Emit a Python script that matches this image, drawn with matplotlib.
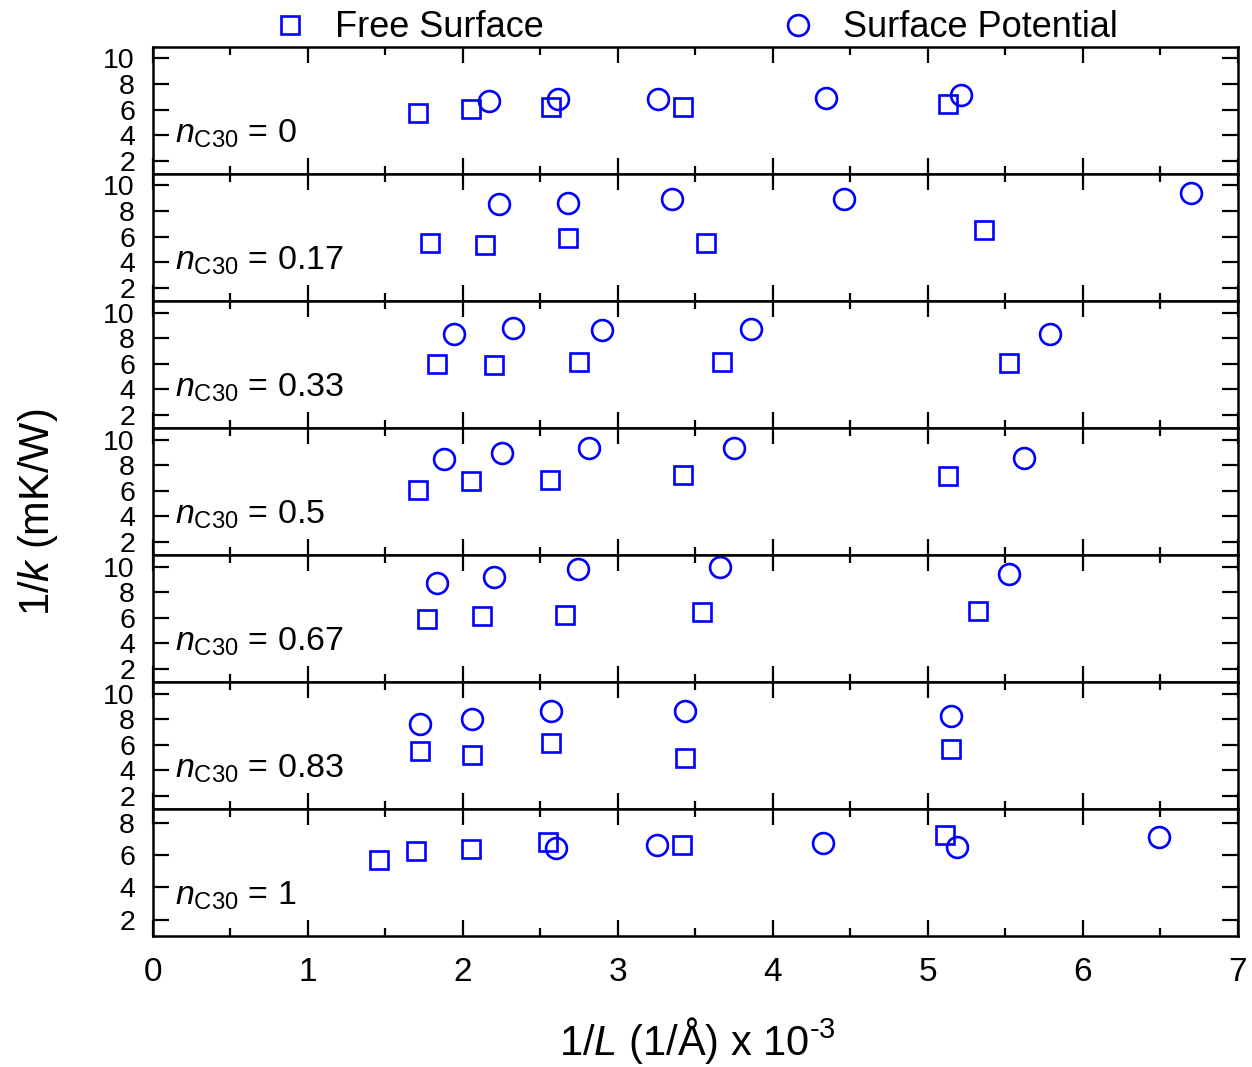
import numpy as np
import matplotlib
matplotlib.use("Agg")
import matplotlib.pyplot as plt
from matplotlib.ticker import MultipleLocator

plt.rcParams['font.family'] = ['Liberation Sans', 'DejaVu Sans']
plt.rcParams['mathtext.fontset'] = 'custom'
plt.rcParams['mathtext.rm'] = 'Liberation Sans'
plt.rcParams['mathtext.it'] = 'Liberation Sans:italic'

# fraction C30 dans chaque panneau
n_c30 = ['0', '0.17', '0.33', '0.5', '0.67', '0.83', '1']

# surface libre (carrés)
x_libre = [
    [1.71, 2.05, 2.57, 3.42, 5.13],
    [1.79, 2.14, 2.68, 3.57, 5.36],
    [1.83, 2.20, 2.75, 3.67, 5.52],
    [1.71, 2.05, 2.56, 3.42, 5.13],
    [1.77, 2.12, 2.66, 3.54, 5.32],
    [1.72, 2.06, 2.57, 3.43, 5.15],
    [1.46, 1.70, 2.05, 2.55, 3.41, 5.11],
]
y_libre = [
    [5.72, 6.04, 6.20, 6.20, 6.44],
    [5.53, 5.37, 5.92, 5.53, 6.55],
    [6.00, 5.92, 6.16, 6.16, 6.08],
    [6.04, 6.74, 6.82, 7.21, 7.13],
    [5.88, 6.12, 6.19, 6.43, 6.51],
    [5.48, 5.17, 6.12, 5.01, 5.64],
    [5.71, 6.27, 6.39, 6.82, 6.64, 7.26],
]

# potentiel de surface (cercles)
x_pot = [
    [2.17, 2.61, 3.26, 4.34, 5.21],
    [2.23, 2.68, 3.35, 4.46, 6.70],
    [1.94, 2.32, 2.90, 3.86, 5.79],
    [1.88, 2.25, 2.81, 3.75, 5.62],
    [1.83, 2.20, 2.74, 3.66, 5.52],
    [1.72, 2.06, 2.57, 3.43, 5.15],
    [2.60, 3.25, 4.32, 5.19, 6.49],
]
y_pot = [
    [6.67, 6.83, 6.83, 6.91, 7.15],
    [8.52, 8.60, 8.91, 8.91, 9.39],
    [8.36, 8.83, 8.60, 8.68, 8.36],
    [8.46, 8.93, 9.32, 9.32, 8.54],
    [8.69, 9.16, 9.79, 9.94, 9.40],
    [7.63, 8.02, 8.66, 8.66, 8.26],
    [6.45, 6.64, 6.76, 6.52, 7.13],
]

bleu = '#0000ff'

fig, axes = plt.subplots(7, 1, figsize=(12.52, 10.67), dpi=100, sharex=True)
fig.subplots_adjust(left=0.1222, right=0.9888, top=0.956, bottom=0.1228, hspace=0)

for i, ax in enumerate(axes):
    h1, = ax.plot(x_libre[i], y_libre[i], 's', ms=13.5, mfc='none', mec=bleu, mew=1.9,
                  linestyle='none', label='Free Surface')
    h2, = ax.plot(x_pot[i], y_pot[i], 'o', ms=15, mfc='none', mec=bleu, mew=1.9,
                  linestyle='none', label='Surface Potential')
    ax.set_xlim(0, 7)
    if i < 6:
        ax.set_ylim(1, 10.9)
        ax.set_yticks([2, 4, 6, 8, 10])
    else:
        ax.set_ylim(1, 8.85)
        ax.set_yticks([2, 4, 6, 8])
    ax.xaxis.set_major_locator(MultipleLocator(1))
    ax.xaxis.set_minor_locator(MultipleLocator(0.5))
    ax.tick_params(which='both', direction='in', top=True, right=True, width=1.6)
    ax.tick_params(which='major', length=11.5)
    ax.tick_params(which='minor', length=6)
    ax.tick_params(axis='y', labelsize=20.5, pad=13)
    ax.tick_params(axis='x', labelsize=24, pad=15)
    for s in ax.spines.values():
        s.set_linewidth(1.8)
    ax.text(0.02, 0.32, r'$n_{\mathrm{C30}}$ = ' + n_c30[i], transform=ax.transAxes,
            fontsize=24.5, va='center', ha='left')
    if i == 0:
        poignees = [h1, h2]

fig.legend(poignees, ['Free Surface', 'Surface Potential'], loc='center',
           bbox_to_anchor=(0.555, 0.974), ncol=2, frameon=False, fontsize=26,
           handlelength=1.0, handletextpad=0.75, columnspacing=6.55)

fig.text(0.03, 0.52, r'1/$k$ (mK/W)', rotation=90, fontsize=30, ha='center', va='center')
fig.text(0.557, 0.025, r'1/$L$ (1/Å) x 10$^{\text{-3}}$', fontsize=30, ha='center', va='center')

fig.savefig('out.png', dpi=100)
